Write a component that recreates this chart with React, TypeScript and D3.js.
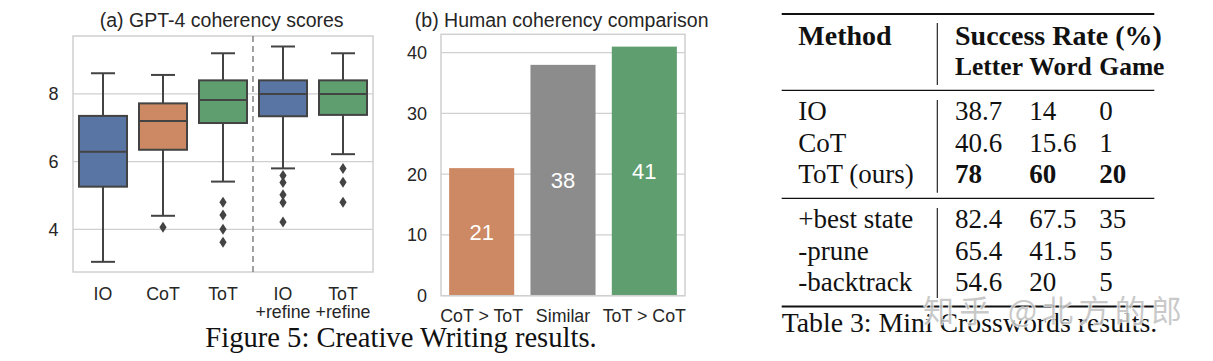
import React from "react";
import * as d3 from "d3";

// ---------- data ----------
const boxCategories = ["IO", "CoT", "ToT", "IO\n+refine", "ToT\n+refine"];
const boxLowerWhisker = [3.04, 4.4, 5.41, 5.8, 6.22];
const boxQ1 = [5.26, 6.35, 7.14, 7.34, 7.38];
const boxMedian = [6.29, 7.2, 7.82, 8.0, 8.0];
const boxQ3 = [7.35, 7.72, 8.4, 8.4, 8.4];
const boxUpperWhisker = [8.61, 8.56, 9.2, 9.4, 9.2];
const boxOutliers: number[][] = [
  [],
  [4.06],
  [4.8, 4.42, 4.0, 3.62],
  [5.59, 5.38, 5.02, 4.79, 4.22],
  [5.8, 5.39, 4.8],
];
const boxColors = ["#5875a4", "#cc8963", "#5f9e6e", "#5875a4", "#5f9e6e"];
const boxTicks = [4, 6, 8];

const barCategories = ["CoT > ToT", "Similar", "ToT > CoT"];
const barValues = [21, 38, 41];
const barColors = ["#cc8963", "#8c8c8c", "#5f9e6e"];
const barTicks = [0, 10, 20, 30, 40];

const tableHeaderCols = ["Letter", "Word", "Game"];
const tableMethods1 = ["IO", "CoT", "ToT (ours)"];
const tableValues1 = [
  ["38.7", "14", "0"],
  ["40.6", "15.6", "1"],
  ["78", "60", "20"],
];
const tableBold1 = [false, false, true];
const tableMethods2 = ["+best state", "-prune", "-backtrack"];
const tableValues2 = [
  ["82.4", "67.5", "35"],
  ["65.4", "41.5", "5"],
  ["54.6", "20", "5"],
];

const SANS = "'Liberation Sans', Arial, sans-serif";
const SERIF = "'Liberation Serif', 'Times New Roman', serif";
const GRID = "#d0d0d0";
const EDGE = "#434343";
const TXT = "#262626";

function BoxPanel() {
  const x = d3.scaleBand<string>().domain(boxCategories).range([73, 373]).padding(0);
  const y = d3.scaleLinear().domain([2.74, 9.71]).range([272, 36]);
  const bw = x.bandwidth() * 0.8;
  const [x0, x1] = x.range();
  const [yb, yt] = y.range();
  return (
    <g>
      <text x={221.7} y={27} textAnchor="middle" fontFamily={SANS} fontSize={19.5} fill={TXT}>
        (a) GPT-4 coherency scores
      </text>
      {boxTicks.map((t) => (
        <g key={t}>
          <line x1={x0} x2={x1} y1={y(t)} y2={y(t)} stroke={GRID} strokeWidth={1.3} />
          <text x={58.5} y={y(t)} dy="0.35em" textAnchor="end" fontFamily={SANS} fontSize={18} fill={TXT}>
            {t}
          </text>
        </g>
      ))}
      <rect x={x0} y={yt} width={x1 - x0} height={yb - yt} fill="none" stroke={GRID} strokeWidth={1.5} />
      <line
        x1={x("IO\n+refine")!}
        x2={x("IO\n+refine")!}
        y1={yt}
        y2={yb}
        stroke="#8a8a8a"
        strokeWidth={1.6}
        strokeDasharray="6,4"
      />
      {boxCategories.map((c, i) => {
        const cx = x(c)! + x.bandwidth() / 2;
        const capW = bw / 2;
        return (
          <g key={c}>
            <line x1={cx} x2={cx} y1={y(boxQ3[i])} y2={y(boxUpperWhisker[i])} stroke={EDGE} strokeWidth={2} />
            <line x1={cx} x2={cx} y1={y(boxQ1[i])} y2={y(boxLowerWhisker[i])} stroke={EDGE} strokeWidth={2} />
            <line
              x1={cx - capW / 2}
              x2={cx + capW / 2}
              y1={y(boxUpperWhisker[i])}
              y2={y(boxUpperWhisker[i])}
              stroke={EDGE}
              strokeWidth={2}
            />
            <line
              x1={cx - capW / 2}
              x2={cx + capW / 2}
              y1={y(boxLowerWhisker[i])}
              y2={y(boxLowerWhisker[i])}
              stroke={EDGE}
              strokeWidth={2}
            />
            <rect
              x={cx - bw / 2}
              y={y(boxQ3[i])}
              width={bw}
              height={y(boxQ1[i]) - y(boxQ3[i])}
              fill={boxColors[i]}
              stroke={EDGE}
              strokeWidth={2}
            />
            <line
              x1={cx - bw / 2}
              x2={cx + bw / 2}
              y1={y(boxMedian[i])}
              y2={y(boxMedian[i])}
              stroke={EDGE}
              strokeWidth={2}
            />
            {boxOutliers[i].map((v, j) => (
              <path
                key={j}
                d={`M${cx},${y(v) - 5.5}L${cx + 3.6},${y(v)}L${cx},${y(v) + 5.5}L${cx - 3.6},${y(v)}Z`}
                fill={EDGE}
              />
            ))}
            {c.split("\n").map((line, k) => (
              <text
                key={k}
                x={cx}
                y={299.5 + k * 18}
                textAnchor="middle"
                fontFamily={SANS}
                fontSize={17.8}
                fill={TXT}
              >
                {line}
              </text>
            ))}
          </g>
        );
      })}
    </g>
  );
}

function BarPanel() {
  const x = d3.scaleBand<string>().domain(barCategories).range([441, 685]).padding(0);
  const y = d3.scaleLinear().domain([0, 43.03]).range([295.7, 34.3]);
  const bw = x.bandwidth() * 0.8;
  const [x0, x1] = x.range();
  const [yb, yt] = y.range();
  return (
    <g>
      <text x={561.7} y={26.5} textAnchor="middle" fontFamily={SANS} fontSize={19.5} fill={TXT}>
        (b) Human coherency comparison
      </text>
      {barTicks.map((t) => (
        <g key={t}>
          <line x1={x0} x2={x1} y1={y(t)} y2={y(t)} stroke={GRID} strokeWidth={1.3} />
          <text x={427} y={y(t)} dy="0.35em" textAnchor="end" fontFamily={SANS} fontSize={18} fill={TXT}>
            {t}
          </text>
        </g>
      ))}
      {barCategories.map((c, i) => {
        const cx = x(c)! + x.bandwidth() / 2;
        return (
          <g key={c}>
            <rect x={cx - bw / 2} y={y(barValues[i])} width={bw} height={y(0) - y(barValues[i])} fill={barColors[i]} />
            <text
              x={cx}
              y={y(barValues[i] / 2)}
              dy="0.36em"
              textAnchor="middle"
              fontFamily={SANS}
              fontSize={22}
              fill="#ffffff"
            >
              {barValues[i]}
            </text>
            <text x={cx} y={321.5} textAnchor="middle" fontFamily={SANS} fontSize={17.8} fill={TXT}>
              {c}
            </text>
          </g>
        );
      })}
      <rect x={x0} y={yt} width={x1 - x0} height={yb - yt} fill="none" stroke={GRID} strokeWidth={1.5} />
    </g>
  );
}

function TablePanel() {
  const ruleX0 = 781.7;
  const ruleX1 = 1154.3;
  const vx = 937.3;
  const colX = [955, 1029.3, 1099.3];
  const labelX = 798.3;
  const rows1Y = [120, 151.7, 183.3];
  const rows2Y = [228.3, 259.7, 290.7];
  return (
    <g fill="#111">
      <line x1={ruleX0} x2={ruleX1} y1={14} y2={14} stroke="#111" strokeWidth={2.2} />
      <line x1={ruleX0} x2={ruleX1} y1={90.3} y2={90.3} stroke="#111" strokeWidth={1.3} />
      <line x1={ruleX0} x2={ruleX1} y1={198.3} y2={198.3} stroke="#111" strokeWidth={1.3} />
      <line x1={ruleX0} x2={ruleX1} y1={306.5} y2={306.5} stroke="#111" strokeWidth={2.2} />
      <line x1={vx} x2={vx} y1={23} y2={85} stroke="#111" strokeWidth={1.1} />
      <line x1={vx} x2={vx} y1={100} y2={192.7} stroke="#111" strokeWidth={1.1} />
      <line x1={vx} x2={vx} y1={208} y2={298} stroke="#111" strokeWidth={1.1} />
      <text x={labelX} y={45} fontFamily={SERIF} fontWeight="bold" fontSize={28}>
        Method
      </text>
      <text x={colX[0]} y={45} fontFamily={SERIF} fontWeight="bold" fontSize={28}>
        Success Rate (%)
      </text>
      {tableHeaderCols.map((h, i) => (
        <text key={h} x={colX[i]} y={75} fontFamily={SERIF} fontWeight="bold" fontSize={25.5}>
          {h}
        </text>
      ))}
      {tableMethods1.map((m, r) => (
        <g key={m}>
          <text x={labelX} y={rows1Y[r]} fontFamily={SERIF} fontSize={27}>
            {m}
          </text>
          {tableValues1[r].map((v, c) => (
            <text
              key={c}
              x={colX[c]}
              y={rows1Y[r]}
              fontFamily={SERIF}
              fontSize={27}
              fontWeight={tableBold1[r] ? "bold" : "normal"}
            >
              {v}
            </text>
          ))}
        </g>
      ))}
      {tableMethods2.map((m, r) => (
        <g key={m}>
          <text x={labelX} y={rows2Y[r]} fontFamily={SERIF} fontSize={27}>
            {m}
          </text>
          {tableValues2[r].map((v, c) => (
            <text key={c} x={colX[c]} y={rows2Y[r]} fontFamily={SERIF} fontSize={27}>
              {v}
            </text>
          ))}
        </g>
      ))}
      <text x={781.7} y={332} fontFamily={SERIF} fontSize={27.8}>
        Table 3: Mini Crosswords results.
      </text>
      <text
        x={923}
        y={322}
        fontFamily="'Noto Sans CJK SC', sans-serif"
        fontSize={31}
        textLength={259}
        lengthAdjust="spacing"
        fill="#b8b8b8"
        fillOpacity={0.75}
        stroke="#ffffff"
        strokeWidth={1.5}
        strokeOpacity={0.8}
        style={{ paintOrder: "stroke" }}
      >
        知乎 @北方的郎
      </text>
    </g>
  );
}

export default function App() {
  return (
    <svg width={1213} height={361} style={{ position: "absolute", left: 0, top: 0, background: "#fff" }}>
      <rect x={0} y={0} width={1213} height={361} fill="#fff" />
      <BoxPanel />
      <BarPanel />
      <text x={401} y={346.5} textAnchor="middle" fontFamily={SERIF} fontSize={28.6} fill="#111">
        Figure 5: Creative Writing results.
      </text>
      <TablePanel />
    </svg>
  );
}
